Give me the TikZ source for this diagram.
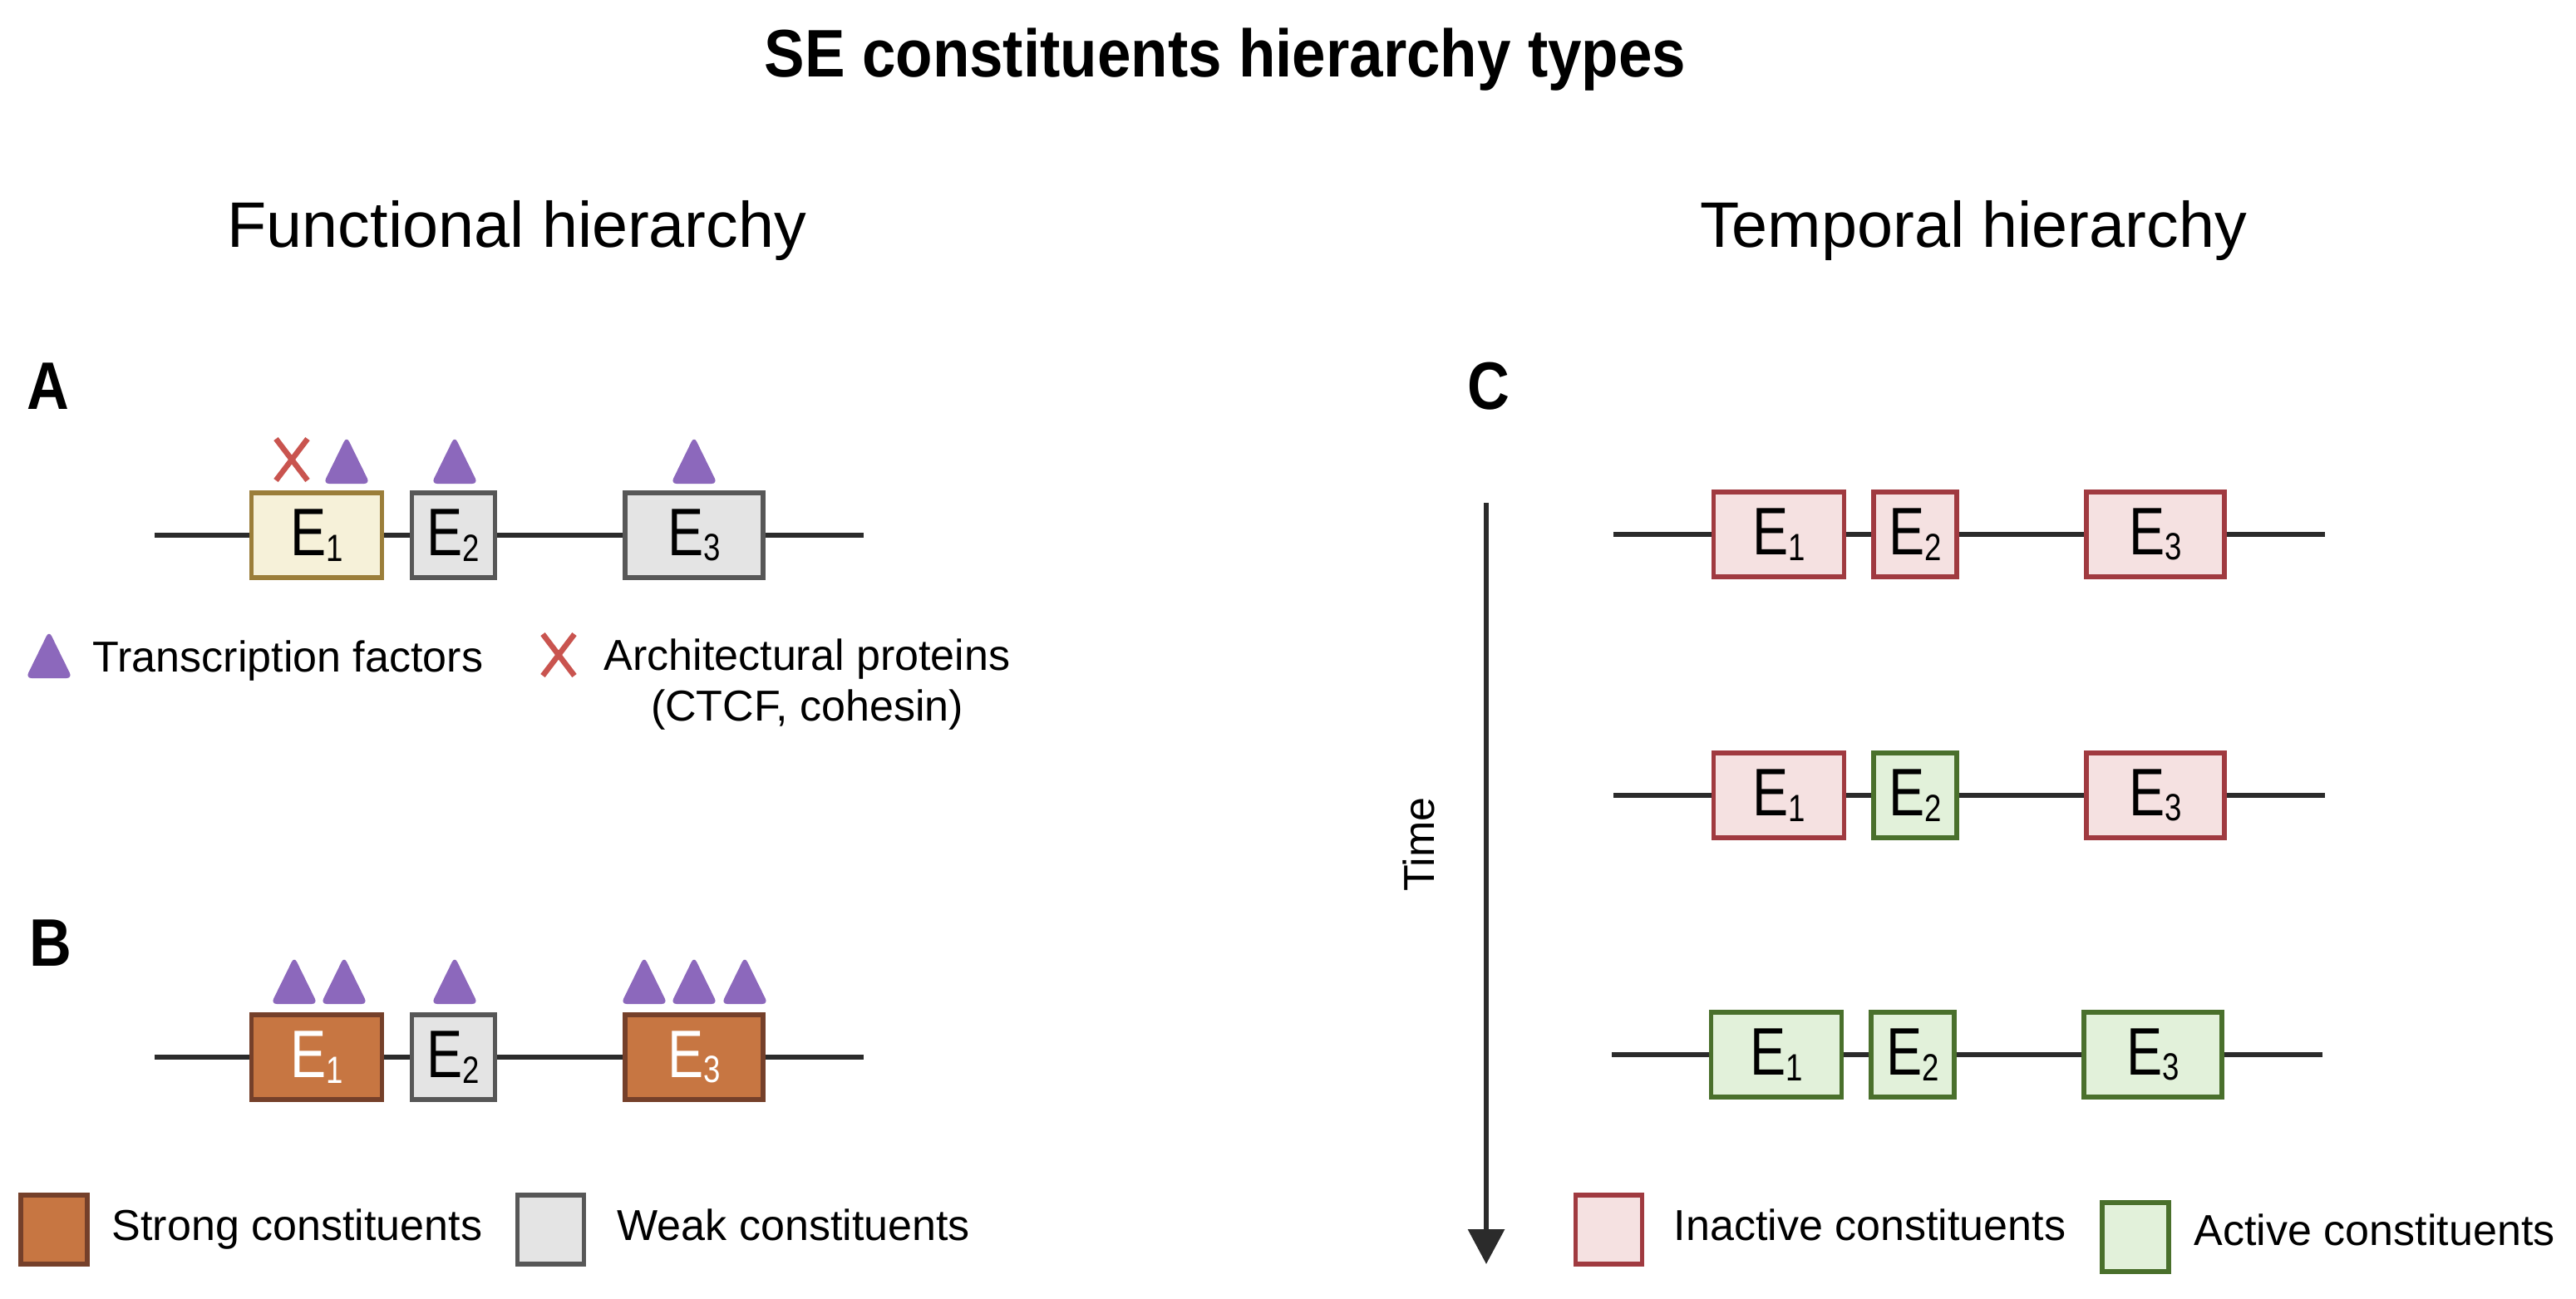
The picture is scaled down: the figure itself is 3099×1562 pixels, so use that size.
\documentclass[tikz,border=0pt]{standalone}
\usepackage{fontspec}
\usepackage{graphicx}
\setmainfont{Liberation Sans}
\usetikzlibrary{arrows.meta}
\definecolor{dnaline}{HTML}{2B2B2B}
\definecolor{yelfill}{HTML}{F6F1D9}
\definecolor{yelline}{HTML}{9B7E3A}
\definecolor{grayfill}{HTML}{E4E4E4}
\definecolor{grayline}{HTML}{575757}
\definecolor{orgfill}{HTML}{C77642}
\definecolor{orgline}{HTML}{75402A}
\definecolor{pinkfill}{HTML}{F5E1E1}
\definecolor{pinkline}{HTML}{A03A40}
\definecolor{grnfill}{HTML}{E2F1DA}
\definecolor{grnline}{HTML}{4A702C}
\definecolor{tfcol}{HTML}{8C68BC}
\definecolor{xcol}{HTML}{C9544F}
\newcommand{\Elab}[1]{\scalebox{0.8}[1]{\fontsize{23}{25}\selectfont E\raisebox{-1.8pt}{\fontsize{13}{15}\selectfont #1}}}
\newcommand{\bodyfont}{\fontsize{14.8}{17.5}\selectfont}
\newcommand{\headfont}{\fontsize{22}{26}\selectfont}
\newcommand{\panelL}[1]{\scalebox{0.87}[1]{\fontsize{23}{27}\selectfont\bfseries #1}}
\tikzset{
  ebox/.style={draw, rectangle, line width=1.6pt, inner sep=0pt, minimum height=1.02cm, text=black},
  wE/.style={minimum width=1.57cm},
  nE/.style={minimum width=1.00cm},
  tE/.style={minimum width=1.66cm},
  lsq/.style={minimum width=0.80cm, minimum height=0.83cm},
  yel/.style={ebox, fill=yelfill, draw=yelline},
  gry/.style={ebox, fill=grayfill, draw=grayline},
  org/.style={ebox, fill=orgfill, draw=orgline, text=white},
  pnk/.style={ebox, fill=pinkfill, draw=pinkline},
  grn/.style={ebox, fill=grnfill, draw=grnline},
  dna/.style={draw=dnaline, line width=1.7pt},
  lbl/.style={inner sep=0pt, font=\bodyfont},
  tf/.pic={\fill[tfcol, rounded corners=2pt] (-28,0) -- (0,-57) -- (28,0) -- cycle;},
  xmark/.pic={\draw[xcol, line width=1.9pt] (-19,-25) -- (19,25) (-19,25) -- (19,-25);}
}
\begin{document}
\begin{tikzpicture}[x=0.01cm, y=-0.01cm]
\fill[white] (0,0) rectangle (3099,1562);
\useasboundingbox (0,0) rectangle (3099,1562);

% title and headings
\node[anchor=base, inner sep=0pt] (title) at (1474,92) {\scalebox{0.9}[1]{\fontsize{23}{27}\selectfont\bfseries SE constituents hierarchy types}};
\node[anchor=base, inner sep=0pt, font=\headfont] (hF) at (622,297) {Functional hierarchy};
\node[anchor=base, inner sep=0pt, font=\headfont] (hT) at (2374,297) {Temporal hierarchy};

% panel letters
\node[anchor=base west, inner sep=0pt] (lA) at (32,492) {\panelL{A}};
\node[anchor=base west, inner sep=0pt] (lB) at (35,1162) {\panelL{B}};
\node[anchor=base west, inner sep=0pt] (lC) at (1765,492) {\panelL{C}};

% ---------- Panel A ----------
\node[yel, wE] (a1) at (381,644) {\Elab{1}};
\node[gry, nE] (a2) at (545.5,644) {\Elab{2}};
\node[gry, tE] (a3) at (835,644) {\Elab{3}};
\coordinate (aL) at (186,644);
\coordinate (aR) at (1039,644);
\draw[dna] (aL) -- (a1) -- (a2) -- (a3) -- (aR);
\pic at (351,553) {xmark};
\pic at (417,582) {tf};
\pic at (547,582) {tf};
\pic at (835,582) {tf};

% legend A
\pic at (59,816) {tf};
\node[lbl, anchor=base west] (tTF) at (111,808) {Transcription factors};
\pic at (672,788) {xmark};
\node[lbl, anchor=north, align=center] (tAP) at (971,768) {Architectural proteins\\(CTCF, cohesin)};

% ---------- Panel B ----------
\node[org, wE] (b1) at (381,1272) {\Elab{1}};
\node[gry, nE] (b2) at (545.5,1272) {\Elab{2}};
\node[org, tE] (b3) at (835,1272) {\Elab{3}};
\coordinate (bL) at (186,1272);
\coordinate (bR) at (1039,1272);
\draw[dna] (bL) -- (b1) -- (b2) -- (b3) -- (bR);
\pic at (354,1208) {tf};
\pic at (414,1208) {tf};
\pic at (547,1208) {tf};
\pic at (775,1208) {tf};
\pic at (835,1208) {tf};
\pic at (896,1208) {tf};

% legend B
\node[org, lsq] (sqS) at (65,1479.5) {};
\node[lbl, anchor=base west] (tS) at (134,1492) {Strong constituents};
\node[gry, lsq] (sqW) at (662.5,1479.5) {};
\node[lbl, anchor=base west] (tW) at (742,1492) {Weak constituents};

% ---------- Panel C ----------
\coordinate (t0) at (1788,605);
\coordinate (t1) at (1788,1521);
\draw[draw=dnaline, fill=dnaline, line width=1.8pt, -{Triangle[width=0.43cm,length=0.42cm]}] (t0) -- (t1);
\node[lbl, rotate=90] (time) at (1707,1016) {Time};

% row 1
\node[pnk, wE] (c11) at (2140,643) {\Elab{1}};
\node[pnk, nE] (c12) at (2304,643) {\Elab{2}};
\node[pnk, tE] (c13) at (2593,643) {\Elab{3}};
\coordinate (c1L) at (1941,643);
\coordinate (c1R) at (2797,643);
\draw[dna] (c1L) -- (c11) -- (c12) -- (c13) -- (c1R);
% row 2
\node[pnk, wE] (c21) at (2140,957) {\Elab{1}};
\node[grn, nE] (c22) at (2304,957) {\Elab{2}};
\node[pnk, tE] (c23) at (2593,957) {\Elab{3}};
\coordinate (c2L) at (1941,957);
\coordinate (c2R) at (2797,957);
\draw[dna] (c2L) -- (c21) -- (c22) -- (c23) -- (c2R);
% row 3
\node[grn, wE] (c31) at (2137,1269) {\Elab{1}};
\node[grn, nE] (c32) at (2301,1269) {\Elab{2}};
\node[grn, tE] (c33) at (2590,1269) {\Elab{3}};
\coordinate (c3L) at (1939,1269);
\coordinate (c3R) at (2794,1269);
\draw[dna] (c3L) -- (c31) -- (c32) -- (c33) -- (c3R);

% legend C
\node[pnk, lsq] (sqI) at (1935.5,1479.5) {};
\node[lbl, anchor=base west] (tI) at (2013,1492) {Inactive constituents};
\node[grn, lsq] (sqA) at (2569,1488.5) {};
\node[lbl, anchor=base west] (tAc) at (2639,1498) {Active constituents};
\end{tikzpicture}
\end{document}
